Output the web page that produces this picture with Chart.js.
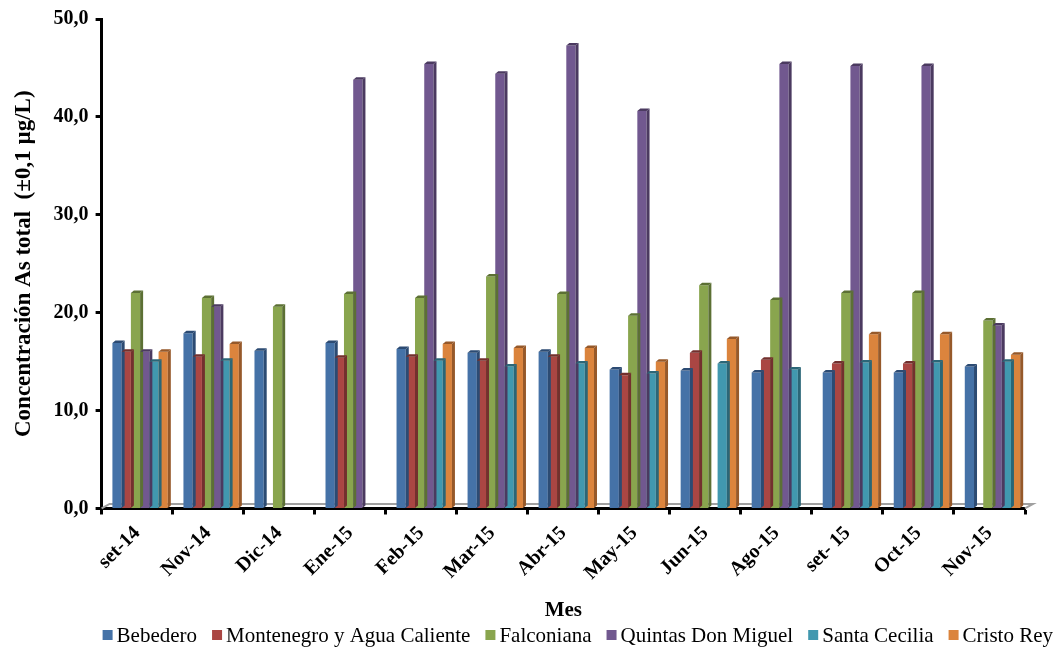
<!DOCTYPE html>
<html>
<head>
<meta charset="utf-8">
<script src="https://cdn.jsdelivr.net/npm/chart.js@4/dist/chart.umd.min.js"></script>
<style>
  html, body { margin: 0; padding: 0; background: #ffffff; }
  #wrap { width: 1055px; height: 649px; position: relative; }
</style>
</head>
<body>
<div id="wrap"><canvas id="c"></canvas></div>
<script>
// Months sampled
const months = ['set-14', 'Nov-14', 'Dic-14', 'Ene-15', 'Feb-15', 'Mar-15', 'Abr-15',
                'May-15', 'Jun-15', 'Ago-15', 'set- 15', 'Oct-15', 'Nov-15'];

// Total arsenic (µg/L) per site; null = not sampled
const bebedero     = [16.9, 17.9, 16.1, 16.9, 16.3, 15.9, 16.0, 14.2, 14.1, 13.9, 13.9, 13.9, 14.5];
const montenegro   = [16.0, 15.5, null, 15.4, 15.5, 15.1, 15.5, 13.6, 15.9, 15.2, 14.8, 14.8, null];
const falconiana   = [22.0, 21.5, 20.6, 21.9, 21.5, 23.7, 21.9, 19.7, 22.8, 21.3, 22.0, 22.0, 19.2];
const quintas      = [16.0, 20.6, null, 43.8, 45.4, 44.4, 47.3, 40.6, null, 45.4, 45.2, 45.2, 18.7];
const santaCecilia = [15.0, 15.1, null, null, 15.1, 14.5, 14.8, 13.8, 14.8, 14.2, 14.9, 14.9, 15.0];
const cristoRey    = [16.0, 16.8, null, null, 16.8, 16.4, 16.4, 15.0, 17.3, null, 17.8, 17.8, 15.7];

const siteNames = ['Bebedero', 'Montenegro y Agua Caliente', 'Falconiana',
                   'Quintas Don Miguel', 'Santa Cecilia', 'Cristo Rey'];
const siteColors = ['#4572A7', '#AA4643', '#89A54E', '#71588F', '#4198AF', '#DB843D'];
const siteShades = ['#2C4B73', '#73302E', '#5C7034', '#4B3A60', '#2B6677', '#96592A'];

const yTicks = [0, 10, 20, 30, 40, 50];

const serif = '"Liberation Serif", "Times New Roman", serif';

// Side/top faces of the columns and the grey floor edge (pseudo 3-D look)
const DX = 3, DY = 2.5, SHIFT = 3;
const columns3d = {
  id: 'columns3d',
  beforeDatasetsDraw(chart) {
    const { ctx, chartArea: { left, right, bottom } } = chart;
    ctx.save();
    ctx.strokeStyle = '#a0a0a0';
    ctx.lineWidth = 2;
    ctx.beginPath();
    ctx.moveTo(left, bottom);
    ctx.lineTo(left + 8, bottom - 4.5);
    ctx.lineTo(right + 8, bottom - 4.5);
    ctx.lineTo(right, bottom);
    ctx.stroke();
    ctx.restore();
    ctx.save();
    ctx.translate(SHIFT, 0);
  },
  afterDatasetsDraw(chart) {
    const { ctx } = chart;
    chart.data.datasets.forEach((ds, i) => {
      const meta = chart.getDatasetMeta(i);
      meta.data.forEach((bar, j) => {
        if (ds.data[j] === null || ds.data[j] === undefined) return;
        const { x, y, base, width } = bar.getProps(['x', 'y', 'base', 'width'], true);
        const xl = x - width / 2, xr = x + width / 2;
        ctx.fillStyle = siteShades[i];
        ctx.beginPath();
        ctx.moveTo(xr, y);
        ctx.lineTo(xr + DX, y - DY);
        ctx.lineTo(xr + DX, base - DY);
        ctx.lineTo(xr, base);
        ctx.closePath();
        ctx.fill();
        ctx.beginPath();
        ctx.moveTo(xl, y);
        ctx.lineTo(xl + DX, y - DY);
        ctx.lineTo(xr + DX, y - DY);
        ctx.lineTo(xr, y);
        ctx.closePath();
        ctx.fill();
      });
    });
    ctx.restore();
  }
};

// Compact single-row legend along the bottom edge, starting at the y axis
const compactLegend = {
  id: 'compactLegend',
  afterDraw(chart) {
    const { ctx, chartArea } = chart;
    const yMid = 635;
    let x = chartArea.left + 1;
    ctx.save();
    ctx.font = '21px ' + serif;
    ctx.textBaseline = 'middle';
    ctx.textAlign = 'left';
    chart.data.datasets.forEach(ds => {
      ctx.fillStyle = ds.backgroundColor;
      ctx.fillRect(x, yMid - 5, 10, 10);
      x += 14;
      ctx.fillStyle = '#000';
      ctx.fillText(ds.label, x, yMid + 1);
      x += ctx.measureText(ds.label).width + 15;
    });
    ctx.restore();
  }
};

const seriesValues = [bebedero, montenegro, falconiana, quintas, santaCecilia, cristoRey];

new Chart(document.getElementById('c'), {
  type: 'bar',
  data: {
    labels: months,
    datasets: seriesValues.map((vals, i) => ({
      label: siteNames[i],
      data: vals,
      backgroundColor: siteColors[i],
      borderWidth: 0,
      categoryPercentage: 0.78,
      barPercentage: 1.0
    }))
  },
  options: {
    responsive: true,
    maintainAspectRatio: false,
    animation: false,
    layout: { padding: { top: 2, right: 30, left: 10, bottom: 26 } },
    plugins: {
      tooltip: { enabled: false },
      legend: { display: false }
    },
    scales: {
      x: {
        grid: { display: true, drawOnChartArea: false, offset: true, tickLength: 6, tickWidth: 3, color: '#000' },
        border: { color: '#000', width: 3 },
        ticks: {
          color: '#000',
          font: { family: serif, size: 20, weight: 'bold' },
          minRotation: 45, maxRotation: 45,
          padding: 7
        },
        title: {
          display: true,
          text: 'Mes',
          color: '#000',
          font: { family: serif, size: 21, weight: 'bold' },
          padding: { top: 6, bottom: 0 }
        }
      },
      y: {
        min: yTicks[0],
        max: yTicks[yTicks.length - 1],
        afterBuildTicks(scale) { scale.ticks = yTicks.map(v => ({ value: v })); },
        grid: { display: true, drawOnChartArea: false, tickLength: 6, tickWidth: 3, color: '#000' },
        border: { color: '#000', width: 3 },
        ticks: {
          color: '#000',
          font: { family: serif, size: 20, weight: 'bold' },
          padding: 7,
          callback: v => v.toFixed(1).replace('.', ',')
        },
        title: {
          display: true,
          text: 'Concentración As total  (±0,1 µg/L)',
          color: '#000',
          font: { family: serif, size: 23, weight: 'bold' },
          padding: { top: 0, bottom: 9 }
        }
      }
    }
  },
  plugins: [columns3d, compactLegend]
});
</script>
</body>
</html>
